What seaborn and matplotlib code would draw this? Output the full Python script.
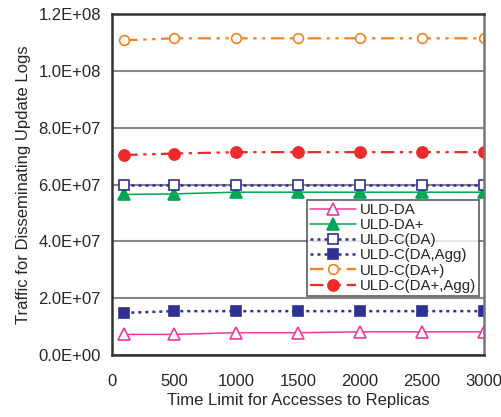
import matplotlib
matplotlib.use("Agg")
import matplotlib.pyplot as plt
import matplotlib.ticker as mticker
import seaborn as sns
import pandas as pd

time_limits = [100, 500, 1000, 1500, 2000, 2500, 3000]
uld_da = [7.2e6, 7.2e6, 7.8e6, 7.8e6, 8.1e6, 8.1e6, 8.1e6]
uld_da_plus = [5.65e7, 5.67e7, 5.73e7, 5.73e7, 5.73e7, 5.73e7, 5.73e7]
uld_c_da = [6.0e7, 6.0e7, 6.0e7, 6.0e7, 6.0e7, 6.0e7, 6.0e7]
uld_c_da_agg = [1.48e7, 1.54e7, 1.54e7, 1.54e7, 1.54e7, 1.54e7, 1.54e7]
uld_c_da_plus = [1.108e8, 1.115e8, 1.115e8, 1.115e8, 1.115e8, 1.115e8, 1.115e8]
uld_c_da_plus_agg = [7.04e7, 7.09e7, 7.14e7, 7.14e7, 7.14e7, 7.14e7, 7.14e7]

series_names = ["ULD-DA", "ULD-DA+", "ULD-C(DA)", "ULD-C(DA,Agg)", "ULD-C(DA+)", "ULD-C(DA+,Agg)"]
series_values = [uld_da, uld_da_plus, uld_c_da, uld_c_da_agg, uld_c_da_plus, uld_c_da_plus_agg]
y_ticks = [0, 2e7, 4e7, 6e7, 8e7, 1e8, 1.2e8]
x_ticks = [0, 500, 1000, 1500, 2000, 2500, 3000]

sns.set_style("white")
plt.rcParams['font.family'] = ['Liberation Sans', 'DejaVu Sans']

styles = {
    "ULD-DA": dict(color="#EC3A9B", ls="-", marker="^", mfc="white", ms=9, lw=1.1),
    "ULD-DA+": dict(color="#00A651", ls="-", marker="^", mfc="#00A651", ms=9, lw=1.1),
    "ULD-C(DA)": dict(color="#2E3192", ls=(0, (1.2, 1.6)), marker="s", mfc="white", ms=7, lw=1.8),
    "ULD-C(DA,Agg)": dict(color="#2E3192", ls=(0, (1.2, 1.6)), marker="s", mfc="#2E3192", ms=7, lw=1.8),
    "ULD-C(DA+)": dict(color="#F58220", ls=(0, (6, 2.5, 1.5, 2.5, 1.5, 2.5)), marker="o", mfc="white", ms=7, lw=1.6),
    "ULD-C(DA+,Agg)": dict(color="#EE2A2A", ls=(0, (6, 2.5, 1.5, 2.5, 1.5, 2.5)), marker="o", mfc="#EE2A2A", ms=8, lw=1.6),
}

fig = plt.figure(figsize=(5.02, 4.17), dpi=100)
ax = fig.add_axes([0.223, 0.149, 0.741, 0.817])

for name, vals in zip(series_names, series_values):
    df = pd.DataFrame({"x": time_limits, "y": vals})
    st = styles[name]
    sns.lineplot(data=df, x="x", y="y", ax=ax, color=st["color"], linestyle=st["ls"],
                 linewidth=st["lw"], marker=st["marker"], markersize=st["ms"],
                 markerfacecolor=st["mfc"], markeredgecolor=st["color"], markeredgewidth=1.2,
                 label=name)

ax.set_xlim(0, 3000)
ax.set_ylim(0, 1.2e8)
ax.set_xticks(x_ticks)
ax.set_yticks(y_ticks)
ax.yaxis.set_major_formatter(mticker.FuncFormatter(lambda v, p: f"{v:.1E}"))
ax.grid(axis="y", color="#888888", lw=1.5)
ax.set_axisbelow(True)
for s in ["left", "bottom", "top"]:
    ax.spines[s].set_color("#333333")
    ax.spines[s].set_linewidth(1.8)
ax.spines["right"].set_color("#777777")
ax.spines["right"].set_linewidth(1.8)
ax.tick_params(axis="both", direction="in", length=5, width=1.2, color="#333333", labelsize=12, pad=8)
ax.tick_params(axis="x", pad=14)
ax.set_xlabel("Time Limit for Accesses to Replicas", fontsize=12, labelpad=3)
ax.set_ylabel("Traffic for Disseminating Update Logs", fontsize=12, labelpad=5)

leg = ax.legend(loc="upper left", bbox_to_anchor=(0.524, 0.455), frameon=True, fancybox=False,
                fontsize=10.8, handlelength=3.1, handletextpad=0.25, borderpad=0.2, labelspacing=0.08,
                borderaxespad=0)
leg.get_frame().set_edgecolor("#333333")
leg.get_frame().set_linewidth(1.2)

fig.savefig("out.png", dpi=100)
